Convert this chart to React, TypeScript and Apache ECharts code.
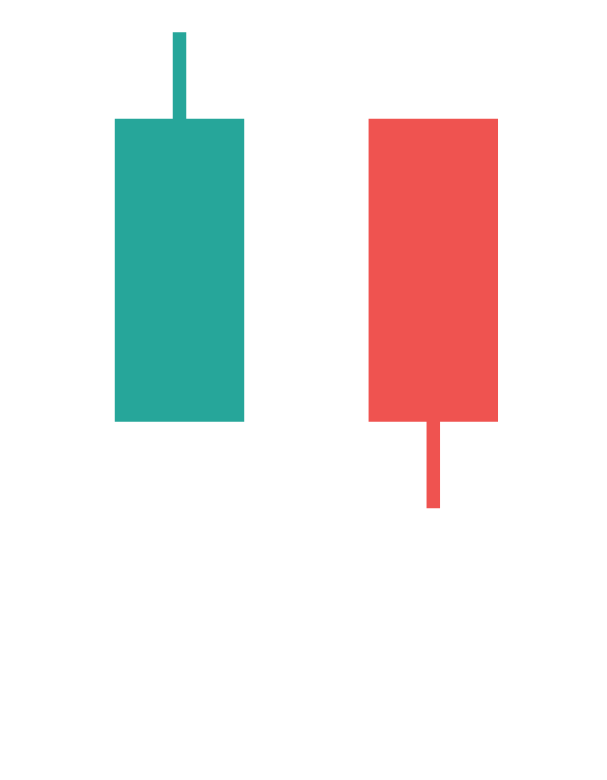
import React, { useEffect, useRef } from "react";
import * as echarts from "echarts";

const categories = ["A", "B"];
// [open, close, low, high]
const openValues = [20, 90];
const closeValues = [90, 20];
const lowValues = [20, 0];
const highValues = [110, 90];

const UP_COLOR = "#26a69a";
const DOWN_COLOR = "#ef5350";

export default function App() {
  const ref = useRef<HTMLDivElement>(null);
  useEffect(() => {
    if (!ref.current) return;
    const chart = echarts.init(ref.current, undefined, { renderer: "svg" });
    const data = categories.map((_, i) => [i, openValues[i], closeValues[i], lowValues[i], highValues[i]]);
    chart.setOption({
      animation: false,
      grid: { left: 52.6, right: 46.8, top: 32.3, bottom: 271.7, containLabel: false },
      xAxis: {
        type: "category",
        data: categories,
        show: false,
        boundaryGap: true,
      },
      yAxis: { type: "value", min: 0, max: 110, show: false, splitLine: { show: false } },
      series: [
        {
          type: "custom",
          data,
          encode: { x: 0, y: [1, 2, 3, 4] },
          renderItem: (params: any, api: any) => {
            const idx = api.value(0);
            const open = api.value(1);
            const close = api.value(2);
            const low = api.value(3);
            const high = api.value(4);
            const band = api.size([1, 0])[0];
            const bodyW = band * 0.51;
            const wickW = 13.5;
            const pOpen = api.coord([idx, open]);
            const pClose = api.coord([idx, close]);
            const pLow = api.coord([idx, low]);
            const pHigh = api.coord([idx, high]);
            const cx = pOpen[0];
            const up = close >= open;
            const color = up ? UP_COLOR : DOWN_COLOR;
            const bodyTop = Math.min(pOpen[1], pClose[1]);
            const bodyBottom = Math.max(pOpen[1], pClose[1]);
            const children: any[] = [];
            if (bodyTop - pHigh[1] > 0.5) {
              children.push({
                type: "rect",
                shape: { x: cx - wickW / 2, y: pHigh[1], width: wickW, height: bodyTop - pHigh[1] + 1 },
                style: { fill: color },
              });
            }
            if (pLow[1] - bodyBottom > 0.5) {
              children.push({
                type: "rect",
                shape: { x: cx - wickW / 2, y: bodyBottom - 1, width: wickW, height: pLow[1] - bodyBottom + 1 },
                style: { fill: color },
              });
            }
            children.push({
              type: "rect",
              shape: { x: cx - bodyW / 2, y: bodyTop, width: bodyW, height: bodyBottom - bodyTop },
              style: { fill: color },
            });
            return { type: "group", children };
          },
        },
      ],
    });
    return () => chart.dispose();
  }, []);
  return (
    <div
      ref={ref}
      style={{ position: "absolute", left: 0, top: 0, width: 607, height: 780, background: "#ffffff" }}
    />
  );
}
